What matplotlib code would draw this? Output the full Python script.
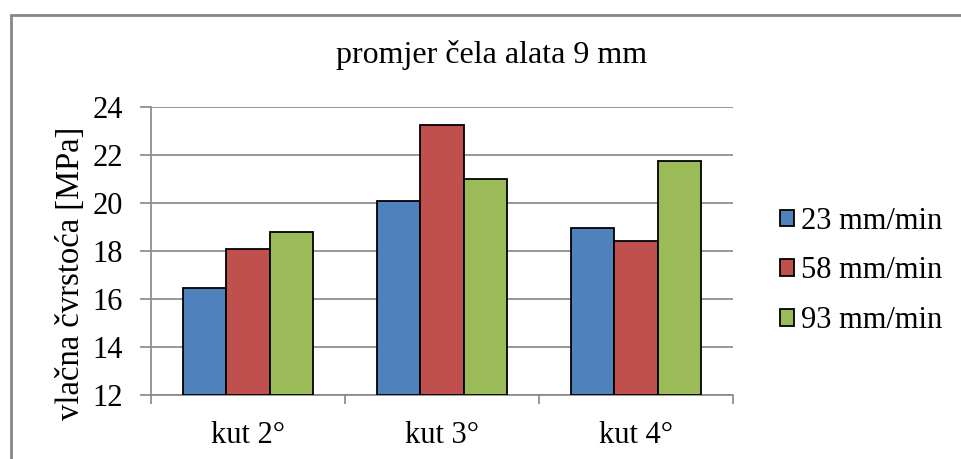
import numpy as np
import matplotlib.pyplot as plt
from matplotlib.patches import Rectangle

plt.rcParams['font.family'] = ['Liberation Serif', 'DejaVu Serif']

# podaci
categories = ['kut 2°', 'kut 3°', 'kut 4°']
series = ['23 mm/min', '58 mm/min', '93 mm/min']
v23 = [16.45, 20.07, 18.97]
v58 = [18.10, 23.25, 18.42]
v93 = [18.79, 21.00, 21.74]
colors = ['#4F81BD', '#C0504D', '#9BBB59']

W, H = 961, 459
fig = plt.figure(figsize=(W / 100, H / 100), dpi=100)
ax = fig.add_axes([151 / W, 64 / H, 582 / W, 288 / H])

# okvir oko grafa
fig.patches.append(Rectangle((11 / W, -0.1), 1.2, (459 - 15) / H + 0.1,
                             transform=fig.transFigure, fill=False,
                             edgecolor='#868686', linewidth=2))

x = np.arange(len(categories))
bw = 0.223
for i, (vals, name) in enumerate(zip([v23, v58, v93], series)):
    ax.bar(x + (i - 1) * bw, np.array(vals) - 12, bw, bottom=12,
           color=colors[i], edgecolor='black', linewidth=1.3, label=name, zorder=3)

ax.set_xlim(-0.5, 2.5)
ax.set_ylim(12, 24)
ax.set_yticks(np.arange(12, 25, 2))
ax.yaxis.grid(True, color='#868686', linewidth=1.2, zorder=0)
ax.set_xticks(x)
ax.set_xticklabels(categories)
ax.set_xticks([-0.5, 0.5, 1.5, 2.5], minor=True)
ax.tick_params(axis='x', which='major', length=0, pad=19, labelsize=22)
ax.tick_params(axis='x', which='minor', length=6.5, width=1.2, color='#868686')
ax.tick_params(axis='y', length=8, width=1.2, color='#868686', labelsize=22, pad=12)

for s in ['top', 'right']:
    ax.spines[s].set_visible(False)
for s in ['left', 'bottom']:
    ax.spines[s].set_color('#868686')
    ax.spines[s].set_linewidth(1.2)

ax.set_ylabel('vlačna čvrstoća [MPa]', fontsize=23.5)
ax.yaxis.set_label_coords((86 - 151) / 582, (395 - 273) / 288)
fig.text(492 / W, 1 - 55 / H, 'promjer čela alata 9 mm', fontsize=23,
         ha='center', va='center')

ax.legend(loc='center left', bbox_to_anchor=(780 / W, 1 - 271 / H),
          bbox_transform=fig.transFigure, frameon=False, fontsize=22,
          handlelength=0.45, handleheight=0.45, handletextpad=0.25,
          labelspacing=0.68, borderpad=0, borderaxespad=0)

fig.savefig('out.png', dpi=100)
